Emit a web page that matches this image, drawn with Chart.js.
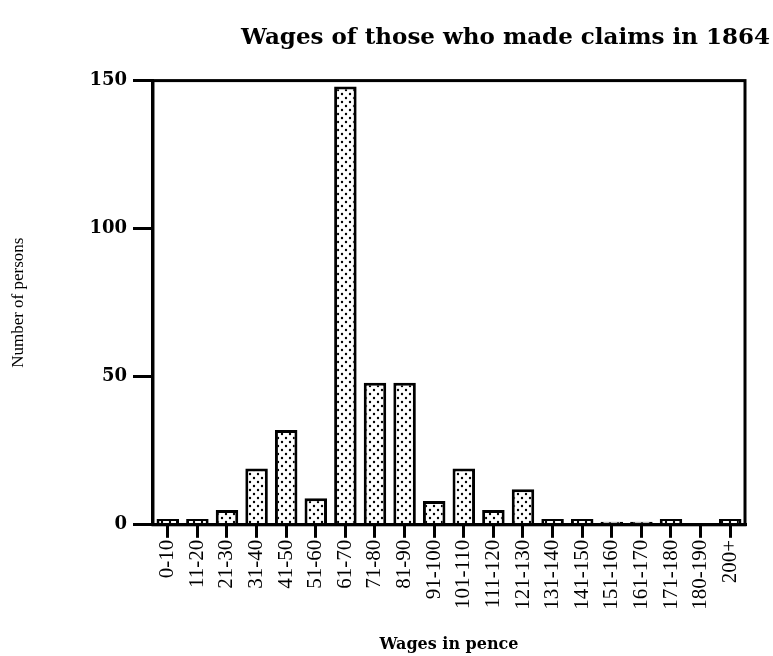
<!DOCTYPE html>
<html>
<head>
<meta charset="utf-8">
<script src="https://cdn.jsdelivr.net/npm/chart.js@4"></script>
<style>
  body { margin: 0; background: #fff; }
  #wrap { width: 773px; height: 656px; }
</style>
</head>
<body>
<div id="wrap"><canvas id="wagesChart"></canvas></div>
<script>
// Data
const wageBands = ["0-10", "11-20", "21-30", "31-40", "41-50", "51-60", "61-70", "71-80", "81-90", "91-100",
  "101-110", "111-120", "121-130", "131-140", "141-150", "151-160", "161-170", "171-180", "180-190", "200+"];
const persons = [2, 2, 5, 19, 32, 9, 148, 48, 48, 8, 19, 5, 12, 2, 2, 1, 1, 2, 0, 2];
const yTicks = [0, 50, 100, 150];

// dotted fill like the printed figure
function dotPattern() {
  const c = document.createElement("canvas");
  c.width = 8; c.height = 8;
  const g = c.getContext("2d");
  g.fillStyle = "#fff";
  g.fillRect(0, 0, 8, 8);
  g.fillStyle = "#000";
  g.beginPath(); g.arc(2, 2, 1.2, 0, Math.PI * 2); g.fill();
  g.beginPath(); g.arc(6, 6, 1.2, 0, Math.PI * 2); g.fill();
  return g.createPattern(c, "repeat");
}

// box round the plot area
const frame = {
  id: "frame",
  afterDraw(chart) {
    const { ctx, chartArea: a } = chart;
    ctx.save();
    ctx.strokeStyle = "#000";
    ctx.lineWidth = 3;
    ctx.strokeRect(a.left, a.top, a.right - a.left, a.bottom - a.top);
    ctx.restore();
  }
};

const ctx = document.getElementById("wagesChart").getContext("2d");
new Chart(ctx, {
  type: "bar",
  data: {
    labels: wageBands,
    datasets: [{
      data: persons,
      backgroundColor: dotPattern(),
      borderColor: "#000",
      borderWidth: 3,
      barPercentage: 0.76,
      categoryPercentage: 1
    }]
  },
  options: {
    responsive: true,
    maintainAspectRatio: false,
    animation: false,
    layout: { padding: { left: 8, right: 3, top: 8, bottom: 2 } },
    plugins: {
      legend: { display: false },
      tooltip: { enabled: false },
      title: {
        display: true,
        text: "Wages of those who made claims in 1864",
        align: "end",
        color: "#000",
        font: { family: "DejaVu Serif", size: 23, weight: "bold" },
        padding: { top: 16, bottom: 29 }
      }
    },
    scales: {
      x: {
        grid: { display: true, drawOnChartArea: false, tickLength: 13, color: "#000", lineWidth: 3, offset: false },
        border: { color: "#000", width: 3 },
        ticks: {
          color: "#000",
          minRotation: 90,
          maxRotation: 90,
          autoSkip: false,
          padding: 2,
          font: { family: "Liberation Serif", size: 21 }
        },
        title: {
          display: true,
          text: "Wages in pence",
          color: "#000",
          font: { family: "DejaVu Serif", size: 16, weight: "bold" },
          padding: { top: 23, bottom: 0 }
        }
      },
      y: {
        min: 0,
        max: 150,
        afterBuildTicks: axis => { axis.ticks = yTicks.map(v => ({ value: v })); },
        grid: { display: true, drawOnChartArea: false, tickLength: 20, color: "#000", lineWidth: 3 },
        border: { color: "#000", width: 3 },
        ticks: {
          color: "#000",
          padding: 6,
          font: { family: "DejaVu Serif", size: 18, weight: "bold" }
        },
        title: {
          display: true,
          text: "Number of persons",
          color: "#000",
          font: { family: "Liberation Serif", size: 17 },
          padding: { top: 0, bottom: 55 }
        }
      },
      // empty axis that keeps the frame clear of the right edge
      gap: {
        position: "right",
        display: true,
        grid: { display: false },
        border: { display: false },
        ticks: { display: false },
        afterFit: s => { s.width = 25; }
      }
    }
  },
  plugins: [frame]
});
</script>
</body>
</html>
